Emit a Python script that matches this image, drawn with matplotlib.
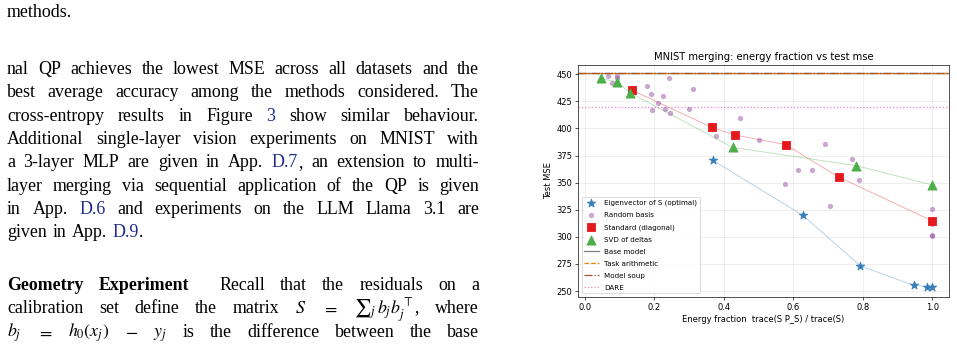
import re
import matplotlib
matplotlib.use("Agg")
import matplotlib.pyplot as plt

# chart data
eig_x = [0.368, 0.627, 0.793, 0.946, 0.985, 1.0]
eig_y = [370.7, 319.9, 273.2, 255.3, 254.0, 254.0]

std_x = [0.1345, 0.365, 0.432, 0.578, 0.730, 1.0]
std_y = [435.5, 401.1, 394.0, 385.1, 355.2, 314.7]

svd_x = [0.045, 0.091, 0.130, 0.425, 0.781, 1.0]
svd_y = [446.3, 442.9, 433.0, 382.6, 365.7, 347.9]

rand_x = [0.065, 0.093, 0.093, 0.077, 0.178, 0.242, 0.189, 0.224, 0.209, 0.310,
          0.231, 0.192, 0.245, 0.300, 0.445, 0.378, 0.500, 0.692, 0.768, 0.613,
          0.655, 0.576, 0.790, 0.706, 1.0, 1.0, 1.0, 1.0]
rand_y = [448.7, 448.7, 447.0, 441.7, 439.2, 446.3, 431.5, 430.3, 423.2, 436.2,
          418.3, 416.8, 414.0, 417.7, 409.7, 393.1, 389.7, 385.7, 371.9, 361.7,
          361.7, 348.5, 352.5, 328.2, 326.0, 312.0, 301.7, 301.0]

base_mse = 451.3
task_arith_mse = 451.2
soup_mse = 451.2
dare_mse = 420.0

# paper text on the left
text_lines = [
    (17, ["methods."], False),
    (74, "nal QP achieves the lowest MSE across all datasets and the".split(), True),
    (97.3, "best average accuracy among the methods considered. The".split(), True),
    (120.7, "cross-entropy results in Figure [3] show similar behaviour.".split(), True),
    (144, "Additional single-layer vision experiments on MNIST with".split(), True),
    (167.3, "a 3-layer MLP are given in App. [D.7], an extension to multi-".split(), True),
    (190.6, "layer merging via sequential application of the QP is given".split(), True),
    (213.9, "in App. [D.6] and experiments on the LLM Llama 3.1 are".split(), True),
    (237.2, "given in App. [D.9].".split(), False),
    (290, ["*Geometry", "*Experiment", "", "Recall", "that", "the", "residuals", "on", "a"], True),
    (313.3, ["calibration", "set", "define", "the", "matrix", "$S$", "$=$",
             r"${\sum}_j\, b_j b_j^{\top}$,", "where"], True),
    (336.6, ["$b_j$", "$=$", "$h_0(x_j)$", "$-$", "$y_j$", "is", "the", "difference",
             "between", "the", "base"], True),
]

W, H = 957, 349
DPI = 60
plt.rcParams["mathtext.fontset"] = "stix"
fig = plt.figure(figsize=(W / DPI, H / DPI), dpi=DPI)
renderer = fig.canvas.get_renderer()

LINK = "#1c2a8c"
serif = dict(family="Liberation Serif", fontsize=21.5, va="baseline", ha="left")


def make_runs(word):
    weight = "normal"
    if word.startswith("*"):
        weight = "bold"
        word = word[1:]
    runs = []
    for i, part in enumerate(re.split(r"\[(.*?)\]", word)):
        if part:
            runs.append((part, LINK if i % 2 else "black", weight))
    return runs


def put_line(y, words, justify, x0=7, x1=479):
    placed = []
    total = 0
    for w in words:
        runs = []
        ww = 0
        for s, c, wt in make_runs(w):
            t = fig.text(0, 0, s, color=c, weight=wt, **serif)
            bw = t.get_window_extent(renderer).width
            runs.append((t, bw))
            ww += bw
        placed.append((runs, ww))
        total += ww
    words_n = len(words)
    if justify and words_n > 1:
        gap = (x1 - x0 - total) / (words_n - 1)
    else:
        gap = 5.5
    x = x0
    for runs, ww in placed:
        for t, bw in runs:
            t.set_position((x / W, 1 - y / H))
            x += bw
        x += gap


for y, words, just in text_lines:
    put_line(y, words, just)

# the chart
ax = fig.add_axes([578 / W, 1 - 297 / H, (949 - 578) / W, (297 - 65) / H])

c_blue, c_red, c_green, c_purple = "#377eb8", "#e41a1c", "#4daf4a", "#984ea3"

ax.plot(eig_x, eig_y, color=c_blue, lw=1, alpha=0.4, zorder=2)
ax.plot(std_x, std_y, color=c_red, lw=1, alpha=0.4, zorder=2)
ax.plot(svd_x, svd_y, color=c_green, lw=1, alpha=0.4, zorder=2)

ax.scatter(eig_x, eig_y, marker="*", s=110, color=c_blue, zorder=4,
           label="Eigenvector of S (optimal)")
ax.scatter(rand_x, rand_y, marker="o", s=40, color=c_purple, alpha=0.5, lw=0,
           zorder=3, label="Random basis")
ax.scatter(std_x, std_y, marker="s", s=100, color=c_red, zorder=4,
           label="Standard (diagonal)")
ax.scatter(svd_x, svd_y, marker="^", s=120, color=c_green, zorder=4,
           label="SVD of deltas")

ax.axhline(base_mse, color="gray", lw=1.5, label="Base model")
ax.axhline(task_arith_mse, color="#ff7f00", lw=1.5, ls="--", label="Task arithmetic")
ax.axhline(soup_mse, color="#a65628", lw=1.5, ls="-.", label="Model soup")
ax.axhline(dare_mse, color="#f781bf", lw=1.5, ls=":", label="DARE")

ax.set_xlim(-0.02, 1.048)
ax.set_ylim(244.5, 458.6)
ax.set_xticks([0.0, 0.2, 0.4, 0.6, 0.8, 1.0])
ax.set_yticks([250, 275, 300, 325, 350, 375, 400, 425, 450])
ax.grid(True, alpha=0.3)
ax.set_xlabel("Energy fraction  trace(S P_S) / trace(S)")
ax.set_ylabel("Test MSE")
ax.set_title("MNIST merging: energy fraction vs test mse")
ax.legend(loc="lower left", fontsize=8.5, labelspacing=0.85)

fig.savefig("out.png", dpi=DPI)
